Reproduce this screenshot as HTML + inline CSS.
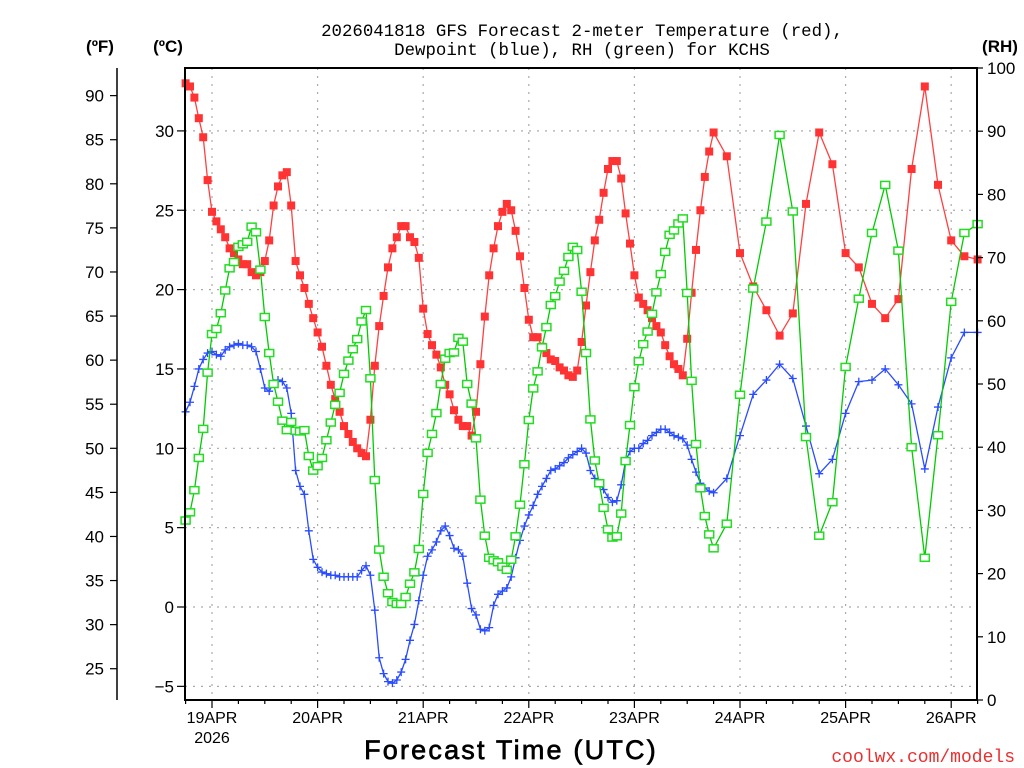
<!DOCTYPE html>
<html><head><meta charset="utf-8"><title>GFS Forecast KCHS</title>
<style>
html,body{margin:0;padding:0;background:#fff;}
svg{display:block;}
text{font-family:"Liberation Sans","DejaVu Sans",sans-serif;}
</style></head>
<body>
<svg id="chart" width="1024" height="768" viewBox="0 0 1024 768" xmlns="http://www.w3.org/2000/svg">
<rect width="1024" height="768" fill="#fff"/>
<g id="grid"></g>
<g id="series"></g>
<rect x="185" y="68" width="792" height="632" fill="none" stroke="#000" stroke-width="2"/>
<g id="axes"></g>
<text x="582" y="36" text-anchor="middle" style="font-family:'Liberation Mono',monospace;font-size:17.4px;">2026041818 GFS Forecast 2-meter Temperature (red),</text>
<text x="582" y="55" text-anchor="middle" style="font-family:'Liberation Mono',monospace;font-size:17.4px;">Dewpoint (blue), RH (green) for KCHS</text>
<text x="100" y="52" text-anchor="middle" style="font-size:17px;font-weight:bold;">(ºF)</text>
<text x="168" y="52" text-anchor="middle" style="font-size:17px;font-weight:bold;">(ºC)</text>
<text x="1000" y="52" text-anchor="middle" style="font-size:17px;font-weight:bold;">(RH)</text>
<text x="511" y="759" text-anchor="middle" stroke="#000" stroke-width="0.7" style="font-size:27px;letter-spacing:2.2px;">Forecast Time (UTC)</text>
<text x="1015" y="762" text-anchor="end" fill="#e83030" style="font-family:'Liberation Mono',monospace;font-size:18px;">coolwx.com/models</text>
</svg>
<script>
const hours = [0,1,2,3,4,5,6,7,8,9,10,11,12,13,14,15,16,17,18,19,20,21,22,23,24,25,26,27,28,29,30,31,32,33,34,35,36,37,38,39,40,41,42,43,44,45,46,47,48,49,50,51,52,53,54,55,56,57,58,59,60,61,62,63,64,65,66,67,68,69,70,71,72,73,74,75,76,77,78,79,80,81,82,83,84,85,86,87,88,89,90,91,92,93,94,95,96,97,98,99,100,101,102,103,104,105,106,107,108,109,110,111,112,113,114,115,116,117,118,119,120,123,126,129,132,135,138,141,144,147,150,153,156,159,162,165,168,171,174,177,180];
const tempC = [33.0,32.8,32.1,30.8,29.6,26.9,24.9,24.3,23.8,23.3,22.6,22.3,21.9,21.6,21.6,21.1,20.9,21.1,21.8,23.1,25.3,26.5,27.2,27.4,25.3,21.8,20.9,20.1,19.1,18.2,17.3,16.4,15.2,14.0,13.1,12.3,11.4,10.9,10.4,10.0,9.7,9.5,11.8,15.2,17.7,19.6,21.4,22.6,23.3,24.0,
24.0,23.3,23.0,22.0,18.8,17.2,16.5,15.9,15.1,14.0,13.4,12.4,11.8,11.4,11.4,10.8,12.3,15.3,18.3,20.9,22.6,24.0,24.9,25.4,25.0,23.7,22.1,20.1,18.1,17.0,17.0,16.4,16.0,15.6,15.5,15.1,14.9,14.6,14.5,14.9,16.7,19.0,21.1,23.1,24.4,
26.1,27.6,28.1,28.1,27.0,24.8,22.9,20.9,19.5,19.1,18.7,18.2,17.7,17.3,16.5,15.8,15.3,15.0,14.6,16.9,19.8,22.5,25.0,27.1,28.7,29.9,
28.4,22.3,20.2,18.7,17.1,18.5,25.4,29.9,27.9,22.3,21.4,19.1,18.2,19.4,27.6,32.8,26.6,23.1,22.1,21.9];
const dewC = [12.3,12.9,13.9,15.0,15.6,16.0,16.1,15.9,15.8,16.2,16.4,16.5,16.6,16.5,16.5,16.4,16.1,15.0,13.8,13.6,14.1,14.3,14.2,13.8,12.2,8.6,7.6,7.1,4.8,3.0,2.5,2.2,2.1,2.0,2.0,1.9,1.9,1.9,1.9,1.9,2.3,2.6,2.0,-0.2,-3.2,-4.2,-4.7,-4.8,-4.6,-4.1,
-3.3,-2.1,-1.1,0.4,2.0,3.2,3.6,4.1,4.8,5.1,4.5,3.7,3.6,3.2,1.5,-0.1,-0.5,-1.4,-1.5,-1.3,0.1,0.8,1.0,1.2,1.9,3.1,4.2,5.1,5.8,6.4,7.1,7.6,8.1,8.6,8.7,8.9,9.1,9.4,9.6,9.8,10.0,9.7,8.6,8.1,7.8,
7.4,6.9,6.6,6.7,7.7,9.2,9.8,10.0,10.0,10.3,10.5,10.8,11.0,11.2,11.2,11.0,10.8,10.7,10.6,10.2,9.3,8.5,7.8,7.5,7.3,7.2,
8.1,10.8,13.4,14.3,15.3,14.4,11.4,8.4,9.3,12.2,14.2,14.3,15.0,14.0,12.8,8.7,12.6,15.7,17.3,17.3];
const rhPct = [28.4,29.7,33.2,38.3,42.9,51.8,57.9,58.7,61.2,64.8,68.3,69.3,71.7,72.1,72.5,74.9,74.0,68.1,60.6,54.9,50.0,47.2,44.2,42.7,44.0,42.6,42.5,42.7,38.6,36.3,37.0,38.3,41.1,43.9,46.7,48.6,51.6,53.7,55.5,57.1,59.9,61.7,50.9,34.8,23.8,19.5,16.9,15.5,15.2,15.2,
16.3,18.4,20.2,23.9,32.6,39.1,42.1,45.4,50.0,54.0,54.9,55.0,57.3,56.7,50.0,46.9,41.4,31.7,26.0,22.5,22.1,21.8,21.1,20.6,22.2,25.9,30.9,37.3,44.3,49.3,52.0,55.8,59.0,62.5,63.9,66.2,67.9,70.1,71.7,71.2,64.6,54.9,44.4,37.9,34.3,
30.4,27.0,25.7,25.9,29.5,37.8,43.5,49.5,53.6,56.3,58.3,61.1,64.5,67.4,70.9,73.6,74.3,75.4,76.2,64.4,50.5,40.5,33.5,29.1,26.2,24.0,
27.9,48.3,65.1,75.7,89.4,77.3,41.6,26.0,31.3,52.7,63.5,73.9,81.5,71.1,40.0,22.5,41.9,63.0,73.9,75.3];
const celsiusTicks = [-5,0,5,10,15,20,25,30];
const fahrenheitTicks = [25,30,35,40,45,50,55,60,65,70,75,80,85,90];
const rhTicks = [0,10,20,30,40,50,60,70,80,90,100];
const dayLabels = ["19APR","20APR","21APR","22APR","23APR","24APR","25APR","26APR"];
const dayHours = [6,30,54,78,102,126,150,174];

const NS = "http://www.w3.org/2000/svg";
const X0 = 185.6, PXH = 4.4;
function xH(h){ return X0 + h*PXH; }
function yC(c){ return 607 - c*15.87; }
function yF(f){ return yC((f-32)*5/9); }
function yRH(r){ return 700 - r*6.32; }
function mk(tag, attrs, parent){
  const e = document.createElementNS(NS, tag);
  for (const k in attrs) e.setAttribute(k, attrs[k]);
  parent.appendChild(e);
  return e;
}
const grid = document.getElementById('grid');
const axes = document.getElementById('axes');
const series = document.getElementById('series');

celsiusTicks.forEach(c => {
  const l = mk('line', {x1:185, x2:977, y1:yC(c), y2:yC(c), stroke:'#aaa', 'stroke-width':1.2, 'stroke-dasharray':'2,6'}, grid);
  
  
});
dayHours.forEach(h => {
  const l = mk('line', {x1:xH(h), x2:xH(h), y1:68, y2:700, stroke:'#aaa', 'stroke-width':1.2, 'stroke-dasharray':'2,6'}, grid);
  
  
});

celsiusTicks.forEach(c => {
  const y = yC(c);
  mk('line', {x1:177, x2:185, y1:y, y2:y, stroke:'#000', 'stroke-width':1.2}, axes);
  const t = mk('text', {x:174, y:y+6, 'text-anchor':'end', 'font-size':17}, axes);
  t.textContent = c < 0 ? '\u2212' + Math.abs(c) : String(c);
  
  
});
const fl = mk('line', {x1:117, x2:117, y1:68, y2:700, stroke:'#000', 'stroke-width':1.5}, axes);


fahrenheitTicks.forEach(f => {
  const y = yF(f);
  mk('line', {x1:110, x2:117, y1:y, y2:y, stroke:'#000', 'stroke-width':1.2}, axes);
  const t = mk('text', {x:104, y:y+6, 'text-anchor':'end', 'font-size':17}, axes);
  t.textContent = String(f);
  
  
});
rhTicks.forEach(r => {
  const y = yRH(r);
  mk('line', {x1:977, x2:983, y1:y, y2:y, stroke:'#000', 'stroke-width':1.2}, axes);
  const t = mk('text', {x:987, y:y+6, 'text-anchor':'start', 'font-size':17}, axes);
  t.textContent = String(r);
  
  
});
for (let h = 0; h <= 180; h += 6) {
  const big = dayHours.indexOf(h) >= 0;
  mk('line', {x1:xH(h), x2:xH(h), y1:700, y2:big ? 708 : 704, stroke:'#000', 'stroke-width':1.2}, axes);
}
dayLabels.forEach((d, i) => {
  const t = mk('text', {x:xH(dayHours[i]), y:723, 'text-anchor':'middle', 'font-size':16}, axes);
  t.textContent = d;
  
  
});
const yr = mk('text', {x:xH(6), y:743, 'text-anchor':'middle', 'font-size':16}, axes);
yr.textContent = '2026';



function drawLine(vals, yfn, color, name){
  const pts = hours.map((h, i) => xH(h).toFixed(1) + ',' + yfn(vals[i]).toFixed(1)).join(' ');
  const pl = mk('polyline', {points:pts, fill:'none', stroke:color, 'stroke-width':1.3}, series);
  
  
}
drawLine(tempC, yC, '#ff4040', 'temperature-line');
hours.forEach((h, i) => {
  const r = mk('rect', {x:xH(h)-4, y:yC(tempC[i])-4, width:8, height:8, fill:'#f33'}, series);
  
  
});
drawLine(dewC, yC, '#2a4cff', 'dewpoint-line');
hours.forEach((h, i) => {
  const x = xH(h), y = yC(dewC[i]);
  const p = mk('path', {d:`M${x-4},${y}H${x+4}M${x},${y-4}V${y+4}`, stroke:'#2a4cff', 'stroke-width':1.3, fill:'none'}, series);
  
  
});
drawLine(rhPct, yRH, '#00cc00', 'rh-line');
hours.forEach((h, i) => {
  const r = mk('rect', {x:xH(h)-4.5, y:yRH(rhPct[i])-3.5, width:9, height:7, fill:'#fff', stroke:'#22dd22', 'stroke-width':1.5}, series);
  
  
});
</script>
</body></html>
